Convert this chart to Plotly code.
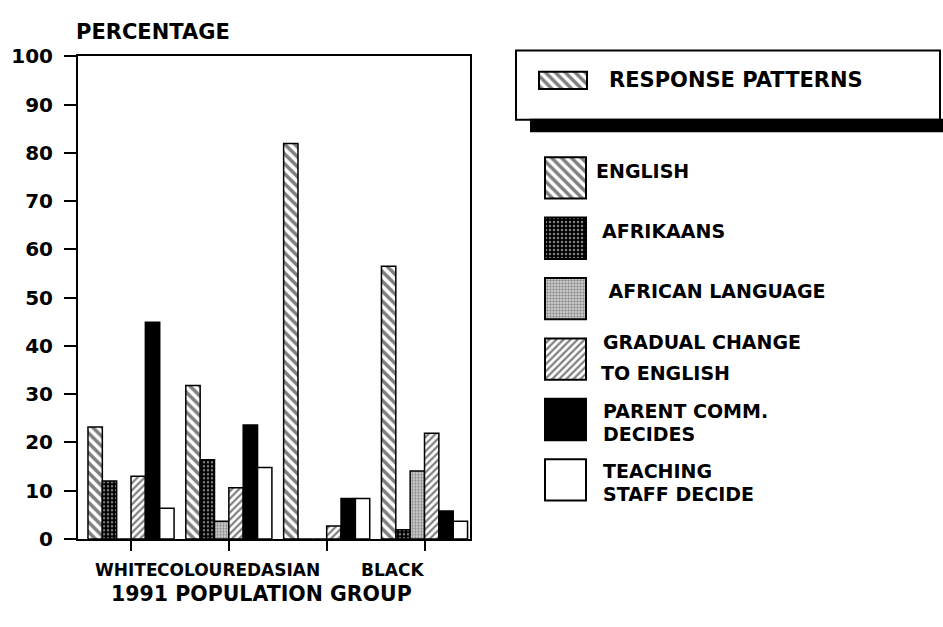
import plotly.graph_objects as go

# Survey results: preferred medium of instruction by 1991 population group
groups = ["WHITE", "COLOURED", "ASIAN", "BLACK"]
english = [23.2, 31.8, 81.9, 56.5]
afrikaans = [12.0, 16.4, 0.0, 1.9]
african_language = [0.0, 3.7, 0.0, 14.1]
gradual_change = [13.0, 10.6, 2.7, 21.9]
parent_comm = [44.9, 23.6, 8.4, 5.8]
teaching_staff = [6.4, 14.8, 8.4, 3.7]

series_names = ["ENGLISH", "AFRIKAANS", "AFRICAN LANGUAGE",
                "GRADUAL CHANGE TO ENGLISH", "PARENT COMM. DECIDES",
                "TEACHING STAFF DECIDE"]
series_values = [english, afrikaans, african_language,
                 gradual_change, parent_comm, teaching_staff]

# legend text, one entry per printed line
legend_lines = [["ENGLISH"], ["AFRIKAANS"], [" AFRICAN LANGUAGE"],
                ["GRADUAL CHANGE", "TO ENGLISH"], ["PARENT COMM.", "DECIDES"],
                ["TEACHING", "STAFF DECIDE"]]

y_ticks = [0, 10, 20, 30, 40, 50, 60, 70, 80, 90, 100]

W, H = 943, 627
FONT = "DejaVu Sans"

# fill styles for each response
styles = [
    dict(shape="\\", fgcolor="black", bgcolor="white", size=7, solidity=0.5),
    dict(shape=".", fgcolor="white", bgcolor="black", size=4, solidity=0.3),
    dict(shape=".", fgcolor="#444444", bgcolor="#d8d8d8", size=3, solidity=0.5),
    dict(shape="/", fgcolor="black", bgcolor="white", size=5, solidity=0.45),
    dict(shape="", fgcolor="black", bgcolor="black", size=4, solidity=0.5),
    dict(shape="", fgcolor="white", bgcolor="white", size=4, solidity=0.5),
]
solid_fill = ["white", "black", "#d8d8d8", "white", "black", "white"]

fig = go.Figure()

for name, vals, st, fill in zip(series_names, series_values, styles, solid_fill):
    fig.add_trace(go.Bar(
        x=groups, y=vals, name=name,
        marker=dict(
            color=fill,
            line=dict(color="black", width=1.5),
            pattern=dict(shape=st["shape"], fgcolor=st["fgcolor"],
                         bgcolor=st["bgcolor"], size=st["size"],
                         solidity=st["solidity"]),
        ),
        xaxis="x", yaxis="y", showlegend=False,
    ))

def px(v, total):
    return v / total

# legend swatches drawn on a pixel-space overlay (header swatch + one per series)
sw_specs = [(539, 62, 48, 18, styles[0], solid_fill[0])] + [
    (545, 151 + i * 62.8, 41, 43, styles[i], solid_fill[i]) for i in range(6)
]
for left, top, wd, ht, st, fill in sw_specs:
    fig.add_trace(go.Bar(
        x=[left], y=[ht], base=[top], width=[wd], offset=0,
        marker=dict(
            color=fill,
            line=dict(color="black", width=2),
            pattern=dict(shape=st["shape"], fgcolor=st["fgcolor"],
                         bgcolor=st["bgcolor"], size=st["size"],
                         solidity=st["solidity"]),
        ),
        xaxis="x2", yaxis="y2", showlegend=False, hoverinfo="skip",
    ))

annotations = []

def label(text, x, y, size, xanchor="left"):
    annotations.append(dict(
        text=text, x=x, y=y, xref="x2", yref="y2", showarrow=False,
        xanchor=xanchor, yanchor="middle", align="left",
        font=dict(family=FONT, size=size, color="black", weight="bold"),
    ))

# legend header and entries
label("RESPONSE PATTERNS", 607, 71, 21)
legend_line_pos = [[(594, 165)], [(600, 228)], [(600, 290)],
                   [(601, 343), (599, 375)], [(601, 415), (601, 439)],
                   [(601, 477), (601, 501)]]
for lines, positions in zip(legend_lines, legend_line_pos):
    for text, (lx, ly) in zip(lines, positions):
        label(text, lx, ly, 19)

# category labels under the axis
group_label_x = [126, 209, 290, 392]
for g, gx in zip(groups, group_label_x):
    label(g, gx, 580, 17, xanchor="center")

label("1991 POPULATION GROUP", 261, 605, 20.5, xanchor="center")
label("PERCENTAGE", 74, 21, 21)

shapes = [
    dict(type="rect", xref="x2", yref="y2", x0=530, y0=111, x1=943, y1=125,
         fillcolor="black", line=dict(width=0)),
    dict(type="rect", xref="x2", yref="y2", x0=516, y0=40, x1=940, y1=112,
         fillcolor="rgba(0,0,0,0)", line=dict(color="black", width=2)),
]

fig.update_layout(
    width=W, height=H,
    margin=dict(l=0, r=0, t=0, b=0),
    paper_bgcolor="white", plot_bgcolor="rgba(0,0,0,0)",
    barmode="group", bargap=0.12, bargroupgap=0,
    xaxis=dict(
        domain=[px(78, W), px(470, W)],
        range=[-0.542, 3.465], showticklabels=False,
        ticks="outside", ticklen=10, tickwidth=2, tickcolor="black",
        showline=True, linewidth=2, linecolor="black", mirror=True,
        showgrid=False, zeroline=False, fixedrange=True,
    ),
    yaxis=dict(
        domain=[1 - px(548, H), 1 - px(46, H)],
        range=[0, 100], tickvals=y_ticks,
        ticks="outside", ticklen=12, tickwidth=2, tickcolor="black",
        ticklabelstandoff=7,
        tickfont=dict(family=FONT, size=20, color="black", weight="bold"),
        showline=True, linewidth=2, linecolor="black", mirror=True,
        showgrid=False, zeroline=False, fixedrange=True,
    ),
    xaxis2=dict(domain=[0, 1], range=[0, W], visible=False, fixedrange=True,
                anchor="y2"),
    yaxis2=dict(domain=[0, 1], range=[H, 0], visible=False, fixedrange=True,
                anchor="x2"),
    annotations=annotations,
    shapes=shapes,
    showlegend=False,
)

fig.write_html("out.html")
